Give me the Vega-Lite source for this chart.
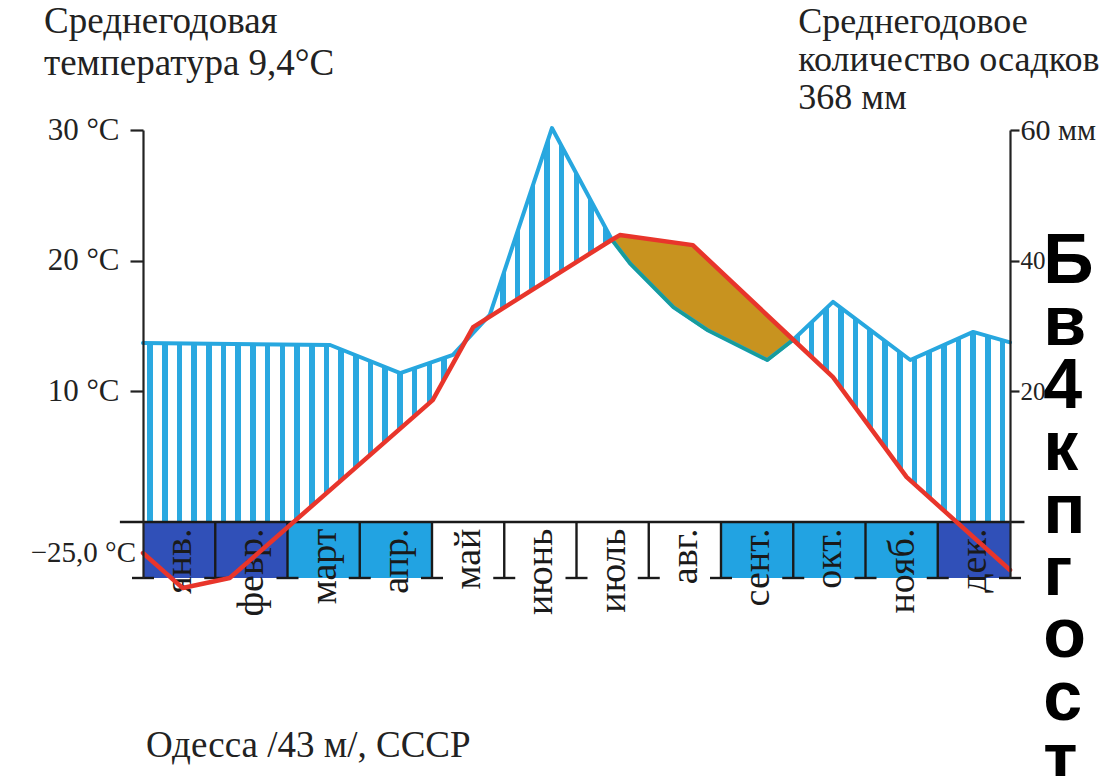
{
  "$schema": "https://vega.github.io/schema/vega-lite/v6.json",
  "width": 867,
  "height": 448,
  "autosize": "none",
  "padding": {"left": 143, "top": 130, "right": 102, "bottom": 198},
  "background": "white",
  "config": {"view": {"stroke": null}, "font": "Liberation Serif"},
  "datasets": {
    "temp": [
      {"m": 0, "t": -2.37},
      {"m": 0.55, "t": -5.05},
      {"m": 1.2, "t": -4.28},
      {"m": 4.01, "t": 9.33},
      {"m": 4.57, "t": 14.92},
      {"m": 6.49, "t": 21.6},
      {"m": 6.6, "t": 21.96},
      {"m": 7.61, "t": 21.19},
      {"m": 9.0, "t": 13.95},
      {"m": 9.55, "t": 11.09},
      {"m": 10.57, "t": 3.44},
      {"m": 12, "t": -3.67}
    ],
    "prec": [
      {"m": 0, "p": 27.4},
      {"m": 2.59, "p": 27.1},
      {"m": 3.56, "p": 22.8},
      {"m": 4.29, "p": 25.6},
      {"m": 4.8, "p": 31.7},
      {"m": 5.66, "p": 60.3},
      {"m": 6.49, "p": 43.2},
      {"m": 6.74, "p": 39.6},
      {"m": 7.34, "p": 32.9},
      {"m": 7.81, "p": 29.4},
      {"m": 8.64, "p": 24.8},
      {"m": 9.0, "p": 27.9},
      {"m": 9.55, "p": 33.7},
      {"m": 10.62, "p": 24.8},
      {"m": 11.49, "p": 29.1},
      {"m": 12, "p": 27.5}
    ],
    "months": [
      {"name": "янв.", "start": 0, "end": 1, "frost": "dark"},
      {"name": "февр.", "start": 1, "end": 2, "frost": "dark"},
      {"name": "март", "start": 2, "end": 3, "frost": "light"},
      {"name": "апр.", "start": 3, "end": 4, "frost": "light"},
      {"name": "май", "start": 4, "end": 5, "frost": "none"},
      {"name": "июнь", "start": 5, "end": 6, "frost": "none"},
      {"name": "июль", "start": 6, "end": 7, "frost": "none"},
      {"name": "авг.", "start": 7, "end": 8, "frost": "none"},
      {"name": "сент.", "start": 8, "end": 9, "frost": "light"},
      {"name": "окт.", "start": 9, "end": 10, "frost": "light"},
      {"name": "нояб.", "start": 10, "end": 11, "frost": "light"},
      {"name": "дек.", "start": 11, "end": 12, "frost": "dark"}
    ]
  },
  "resolve": {"scale": {"y": "independent"}, "axis": {"y": "independent"}},
  "layer": [
    {
      "data": {"name": "prec"},
      "mark": {
        "type": "area", "orient": "vertical",
        "fill": {
          "gradient": "linear", "x1": 0, "y1": 0, "x2": 1, "y2": 0,
          "stops": [
            {"offset": 0, "color": "#ffffff"},
            {"offset": 0.00484, "color": "#ffffff"}, {"offset": 0.00484, "color": "#2aa8e0"}, {"offset": 0.0113, "color": "#2aa8e0"}, {"offset": 0.0113, "color": "#ffffff"},
            {"offset": 0.0218, "color": "#ffffff"}, {"offset": 0.0218, "color": "#2aa8e0"}, {"offset": 0.02826, "color": "#2aa8e0"}, {"offset": 0.02826, "color": "#ffffff"},
            {"offset": 0.03875, "color": "#ffffff"}, {"offset": 0.03875, "color": "#2aa8e0"}, {"offset": 0.04521, "color": "#2aa8e0"}, {"offset": 0.04521, "color": "#ffffff"},
            {"offset": 0.05571, "color": "#ffffff"}, {"offset": 0.05571, "color": "#2aa8e0"}, {"offset": 0.06217, "color": "#2aa8e0"}, {"offset": 0.06217, "color": "#ffffff"},
            {"offset": 0.07266, "color": "#ffffff"}, {"offset": 0.07266, "color": "#2aa8e0"}, {"offset": 0.07912, "color": "#2aa8e0"}, {"offset": 0.07912, "color": "#ffffff"},
            {"offset": 0.08962, "color": "#ffffff"}, {"offset": 0.08962, "color": "#2aa8e0"}, {"offset": 0.09608, "color": "#2aa8e0"}, {"offset": 0.09608, "color": "#ffffff"},
            {"offset": 0.10657, "color": "#ffffff"}, {"offset": 0.10657, "color": "#2aa8e0"}, {"offset": 0.11303, "color": "#2aa8e0"}, {"offset": 0.11303, "color": "#ffffff"},
            {"offset": 0.12353, "color": "#ffffff"}, {"offset": 0.12353, "color": "#2aa8e0"}, {"offset": 0.12999, "color": "#2aa8e0"}, {"offset": 0.12999, "color": "#ffffff"},
            {"offset": 0.14048, "color": "#ffffff"}, {"offset": 0.14048, "color": "#2aa8e0"}, {"offset": 0.14694, "color": "#2aa8e0"}, {"offset": 0.14694, "color": "#ffffff"},
            {"offset": 0.15744, "color": "#ffffff"}, {"offset": 0.15744, "color": "#2aa8e0"}, {"offset": 0.1639, "color": "#2aa8e0"}, {"offset": 0.1639, "color": "#ffffff"},
            {"offset": 0.17439, "color": "#ffffff"}, {"offset": 0.17439, "color": "#2aa8e0"}, {"offset": 0.18085, "color": "#2aa8e0"}, {"offset": 0.18085, "color": "#ffffff"},
            {"offset": 0.19135, "color": "#ffffff"}, {"offset": 0.19135, "color": "#2aa8e0"}, {"offset": 0.19781, "color": "#2aa8e0"}, {"offset": 0.19781, "color": "#ffffff"},
            {"offset": 0.2083, "color": "#ffffff"}, {"offset": 0.2083, "color": "#2aa8e0"}, {"offset": 0.21476, "color": "#2aa8e0"}, {"offset": 0.21476, "color": "#ffffff"},
            {"offset": 0.22526, "color": "#ffffff"}, {"offset": 0.22526, "color": "#2aa8e0"}, {"offset": 0.23172, "color": "#2aa8e0"}, {"offset": 0.23172, "color": "#ffffff"},
            {"offset": 0.24221, "color": "#ffffff"}, {"offset": 0.24221, "color": "#2aa8e0"}, {"offset": 0.24867, "color": "#2aa8e0"}, {"offset": 0.24867, "color": "#ffffff"},
            {"offset": 0.25917, "color": "#ffffff"}, {"offset": 0.25917, "color": "#2aa8e0"}, {"offset": 0.26563, "color": "#2aa8e0"}, {"offset": 0.26563, "color": "#ffffff"},
            {"offset": 0.27612, "color": "#ffffff"}, {"offset": 0.27612, "color": "#2aa8e0"}, {"offset": 0.28258, "color": "#2aa8e0"}, {"offset": 0.28258, "color": "#ffffff"},
            {"offset": 0.29308, "color": "#ffffff"}, {"offset": 0.29308, "color": "#2aa8e0"}, {"offset": 0.29954, "color": "#2aa8e0"}, {"offset": 0.29954, "color": "#ffffff"},
            {"offset": 0.31003, "color": "#ffffff"}, {"offset": 0.31003, "color": "#2aa8e0"}, {"offset": 0.31649, "color": "#2aa8e0"}, {"offset": 0.31649, "color": "#ffffff"},
            {"offset": 0.32699, "color": "#ffffff"}, {"offset": 0.32699, "color": "#2aa8e0"}, {"offset": 0.33345, "color": "#2aa8e0"}, {"offset": 0.33345, "color": "#ffffff"},
            {"offset": 0.34394, "color": "#ffffff"}, {"offset": 0.34394, "color": "#2aa8e0"}, {"offset": 0.3504, "color": "#2aa8e0"}, {"offset": 0.3504, "color": "#ffffff"},
            {"offset": 0.3609, "color": "#ffffff"}, {"offset": 0.3609, "color": "#2aa8e0"}, {"offset": 0.36736, "color": "#2aa8e0"}, {"offset": 0.36736, "color": "#ffffff"},
            {"offset": 0.37785, "color": "#ffffff"}, {"offset": 0.37785, "color": "#2aa8e0"}, {"offset": 0.38431, "color": "#2aa8e0"}, {"offset": 0.38431, "color": "#ffffff"},
            {"offset": 0.39481, "color": "#ffffff"}, {"offset": 0.39481, "color": "#2aa8e0"}, {"offset": 0.40127, "color": "#2aa8e0"}, {"offset": 0.40127, "color": "#ffffff"},
            {"offset": 0.41176, "color": "#ffffff"}, {"offset": 0.41176, "color": "#2aa8e0"}, {"offset": 0.41822, "color": "#2aa8e0"}, {"offset": 0.41822, "color": "#ffffff"},
            {"offset": 0.42872, "color": "#ffffff"}, {"offset": 0.42872, "color": "#2aa8e0"}, {"offset": 0.43518, "color": "#2aa8e0"}, {"offset": 0.43518, "color": "#ffffff"},
            {"offset": 0.44567, "color": "#ffffff"}, {"offset": 0.44567, "color": "#2aa8e0"}, {"offset": 0.45213, "color": "#2aa8e0"}, {"offset": 0.45213, "color": "#ffffff"},
            {"offset": 0.46263, "color": "#ffffff"}, {"offset": 0.46263, "color": "#2aa8e0"}, {"offset": 0.46909, "color": "#2aa8e0"}, {"offset": 0.46909, "color": "#ffffff"},
            {"offset": 0.47958, "color": "#ffffff"}, {"offset": 0.47958, "color": "#2aa8e0"}, {"offset": 0.48604, "color": "#2aa8e0"}, {"offset": 0.48604, "color": "#ffffff"},
            {"offset": 0.49654, "color": "#ffffff"}, {"offset": 0.49654, "color": "#2aa8e0"}, {"offset": 0.503, "color": "#2aa8e0"}, {"offset": 0.503, "color": "#ffffff"},
            {"offset": 0.51349, "color": "#ffffff"}, {"offset": 0.51349, "color": "#2aa8e0"}, {"offset": 0.51995, "color": "#2aa8e0"}, {"offset": 0.51995, "color": "#ffffff"},
            {"offset": 0.53045, "color": "#ffffff"}, {"offset": 0.53045, "color": "#2aa8e0"}, {"offset": 0.53691, "color": "#2aa8e0"}, {"offset": 0.53691, "color": "#ffffff"},
            {"offset": 0.5474, "color": "#ffffff"}, {"offset": 0.5474, "color": "#2aa8e0"}, {"offset": 0.55386, "color": "#2aa8e0"}, {"offset": 0.55386, "color": "#ffffff"},
            {"offset": 0.56436, "color": "#ffffff"}, {"offset": 0.56436, "color": "#2aa8e0"}, {"offset": 0.57082, "color": "#2aa8e0"}, {"offset": 0.57082, "color": "#ffffff"},
            {"offset": 0.58131, "color": "#ffffff"}, {"offset": 0.58131, "color": "#2aa8e0"}, {"offset": 0.58777, "color": "#2aa8e0"}, {"offset": 0.58777, "color": "#ffffff"},
            {"offset": 0.59827, "color": "#ffffff"}, {"offset": 0.59827, "color": "#2aa8e0"}, {"offset": 0.60473, "color": "#2aa8e0"}, {"offset": 0.60473, "color": "#ffffff"},
            {"offset": 0.61522, "color": "#ffffff"}, {"offset": 0.61522, "color": "#2aa8e0"}, {"offset": 0.62168, "color": "#2aa8e0"}, {"offset": 0.62168, "color": "#ffffff"},
            {"offset": 0.63218, "color": "#ffffff"}, {"offset": 0.63218, "color": "#2aa8e0"}, {"offset": 0.63864, "color": "#2aa8e0"}, {"offset": 0.63864, "color": "#ffffff"},
            {"offset": 0.64913, "color": "#ffffff"}, {"offset": 0.64913, "color": "#2aa8e0"}, {"offset": 0.65559, "color": "#2aa8e0"}, {"offset": 0.65559, "color": "#ffffff"},
            {"offset": 0.66609, "color": "#ffffff"}, {"offset": 0.66609, "color": "#2aa8e0"}, {"offset": 0.67255, "color": "#2aa8e0"}, {"offset": 0.67255, "color": "#ffffff"},
            {"offset": 0.68304, "color": "#ffffff"}, {"offset": 0.68304, "color": "#2aa8e0"}, {"offset": 0.6895, "color": "#2aa8e0"}, {"offset": 0.6895, "color": "#ffffff"},
            {"offset": 0.7, "color": "#ffffff"}, {"offset": 0.7, "color": "#2aa8e0"}, {"offset": 0.70646, "color": "#2aa8e0"}, {"offset": 0.70646, "color": "#ffffff"},
            {"offset": 0.71695, "color": "#ffffff"}, {"offset": 0.71695, "color": "#2aa8e0"}, {"offset": 0.72341, "color": "#2aa8e0"}, {"offset": 0.72341, "color": "#ffffff"},
            {"offset": 0.73391, "color": "#ffffff"}, {"offset": 0.73391, "color": "#2aa8e0"}, {"offset": 0.74037, "color": "#2aa8e0"}, {"offset": 0.74037, "color": "#ffffff"},
            {"offset": 0.75086, "color": "#ffffff"}, {"offset": 0.75086, "color": "#2aa8e0"}, {"offset": 0.75732, "color": "#2aa8e0"}, {"offset": 0.75732, "color": "#ffffff"},
            {"offset": 0.76782, "color": "#ffffff"}, {"offset": 0.76782, "color": "#2aa8e0"}, {"offset": 0.77428, "color": "#2aa8e0"}, {"offset": 0.77428, "color": "#ffffff"},
            {"offset": 0.78477, "color": "#ffffff"}, {"offset": 0.78477, "color": "#2aa8e0"}, {"offset": 0.79123, "color": "#2aa8e0"}, {"offset": 0.79123, "color": "#ffffff"},
            {"offset": 0.80173, "color": "#ffffff"}, {"offset": 0.80173, "color": "#2aa8e0"}, {"offset": 0.80819, "color": "#2aa8e0"}, {"offset": 0.80819, "color": "#ffffff"},
            {"offset": 0.81868, "color": "#ffffff"}, {"offset": 0.81868, "color": "#2aa8e0"}, {"offset": 0.82514, "color": "#2aa8e0"}, {"offset": 0.82514, "color": "#ffffff"},
            {"offset": 0.83564, "color": "#ffffff"}, {"offset": 0.83564, "color": "#2aa8e0"}, {"offset": 0.8421, "color": "#2aa8e0"}, {"offset": 0.8421, "color": "#ffffff"},
            {"offset": 0.85259, "color": "#ffffff"}, {"offset": 0.85259, "color": "#2aa8e0"}, {"offset": 0.85905, "color": "#2aa8e0"}, {"offset": 0.85905, "color": "#ffffff"},
            {"offset": 0.86955, "color": "#ffffff"}, {"offset": 0.86955, "color": "#2aa8e0"}, {"offset": 0.87601, "color": "#2aa8e0"}, {"offset": 0.87601, "color": "#ffffff"},
            {"offset": 0.8865, "color": "#ffffff"}, {"offset": 0.8865, "color": "#2aa8e0"}, {"offset": 0.89296, "color": "#2aa8e0"}, {"offset": 0.89296, "color": "#ffffff"},
            {"offset": 0.90346, "color": "#ffffff"}, {"offset": 0.90346, "color": "#2aa8e0"}, {"offset": 0.90992, "color": "#2aa8e0"}, {"offset": 0.90992, "color": "#ffffff"},
            {"offset": 0.92041, "color": "#ffffff"}, {"offset": 0.92041, "color": "#2aa8e0"}, {"offset": 0.92687, "color": "#2aa8e0"}, {"offset": 0.92687, "color": "#ffffff"},
            {"offset": 0.93737, "color": "#ffffff"}, {"offset": 0.93737, "color": "#2aa8e0"}, {"offset": 0.94383, "color": "#2aa8e0"}, {"offset": 0.94383, "color": "#ffffff"},
            {"offset": 0.95432, "color": "#ffffff"}, {"offset": 0.95432, "color": "#2aa8e0"}, {"offset": 0.96078, "color": "#2aa8e0"}, {"offset": 0.96078, "color": "#ffffff"},
            {"offset": 0.97128, "color": "#ffffff"}, {"offset": 0.97128, "color": "#2aa8e0"}, {"offset": 0.97774, "color": "#2aa8e0"}, {"offset": 0.97774, "color": "#ffffff"},
            {"offset": 0.98823, "color": "#ffffff"}, {"offset": 0.98823, "color": "#2aa8e0"}, {"offset": 0.99469, "color": "#2aa8e0"}, {"offset": 0.99469, "color": "#ffffff"},
            {"offset": 1, "color": "#ffffff"}
          ]
        }
      },
      "encoding": {
        "x": {"field": "m", "type": "quantitative", "scale": {"domain": [0, 12], "nice": false, "zero": false}, "axis": null},
        "y": {"field": "p", "type": "quantitative", "scale": {"domain": [-8.56, 60], "nice": false, "zero": false}, "axis": null},
        "y2": {"datum": 0}
      }
    },
    {
      "data": {"name": "temp"},
      "mark": {"type": "area", "orient": "vertical", "fill": "#ffffff"},
      "encoding": {
        "x": {"field": "m", "type": "quantitative", "scale": {"domain": [0, 12], "nice": false, "zero": false}, "axis": null},
        "y": {"field": "t", "type": "quantitative", "scale": {"domain": [-4.28, 30], "nice": false, "zero": false},
          "axis": {"orient": "left", "values": [10, 20, 30], "labelExpr": "datum.value + ' °C'", "labelFont": "Liberation Serif", "labelFontSize": 31, "labelColor": "#222222", "tickSize": 13, "tickWidth": 2.2, "tickColor": "#222222", "domainColor": "#222222", "domainWidth": 2.2, "labelPadding": 11, "grid": false, "title": null, "zindex": 1, "labelOverlap": false, "labelBound": false}},
        "y2": {"datum": 0}
      }
    },
    {
      "data": {"name": "temp"},
      "transform": [{"filter": "datum.m >= 6.49 && datum.m <= 9"}],
      "mark": {"type": "area", "orient": "vertical", "fill": "#c8931f"},
      "encoding": {
        "x": {"field": "m", "type": "quantitative", "scale": {"domain": [0, 12], "nice": false, "zero": false}, "axis": null},
        "y": {"field": "t", "type": "quantitative", "scale": {"domain": [-4.28, 30], "nice": false, "zero": false}, "axis": null},
        "y2": {"datum": 0}
      }
    },
    {
      "data": {"name": "prec"},
      "transform": [{"filter": "datum.m >= 6.49 && datum.m <= 9"}],
      "mark": {"type": "area", "orient": "vertical", "fill": "#ffffff", "stroke": "#ffffff", "strokeWidth": 2.5},
      "encoding": {
        "x": {"field": "m", "type": "quantitative", "scale": {"domain": [0, 12], "nice": false, "zero": false}, "axis": null},
        "y": {"field": "p", "type": "quantitative", "scale": {"domain": [-8.56, 60], "nice": false, "zero": false}, "axis": null},
        "y2": {"datum": 0}
      }
    },
    {
      "data": {"name": "months"},
      "mark": {"type": "rect"},
      "encoding": {
        "x": {"field": "start", "type": "quantitative", "scale": {"domain": [0, 12], "nice": false, "zero": false}, "axis": null},
        "x2": {"field": "end"},
        "y": {"datum": 0, "type": "quantitative", "scale": {"domain": [-4.28, 30], "nice": false, "zero": false}, "axis": null},
        "y2": {"datum": -4.28},
        "color": {"field": "frost", "type": "nominal", "scale": {"domain": ["dark", "light", "none"], "range": ["#3050b8", "#22a3e2", "#ffffff"]}, "legend": null}
      }
    },
    {
      "data": {"name": "months"},
      "transform": [{"filter": "datum.start > 0"}],
      "mark": {"type": "rule", "stroke": "#1a1a1a", "strokeWidth": 2.4},
      "encoding": {
        "x": {"field": "start", "type": "quantitative", "scale": {"domain": [0, 12], "nice": false, "zero": false}, "axis": null},
        "y": {"datum": 0, "type": "quantitative", "scale": {"domain": [-4.28, 30], "nice": false, "zero": false}, "axis": null},
        "y2": {"datum": -4.28}
      }
    },
    {
      "data": {"name": "months"},
      "mark": {"type": "tick", "orient": "horizontal", "size": 22, "thickness": 2.4, "color": "#1a1a1a", "opacity": 1},
      "encoding": {
        "x": {"field": "end", "type": "quantitative", "scale": {"domain": [0, 12], "nice": false, "zero": false}, "axis": null},
        "y": {"datum": -4.28, "type": "quantitative", "scale": {"domain": [-4.28, 30], "nice": false, "zero": false}, "axis": null}
      }
    },
    {
      "data": {"name": "months"},
      "transform": [{"filter": "datum.start == 0"}],
      "mark": {"type": "tick", "orient": "horizontal", "size": 22, "thickness": 2.4, "color": "#1a1a1a", "opacity": 1},
      "encoding": {
        "x": {"field": "start", "type": "quantitative", "scale": {"domain": [0, 12], "nice": false, "zero": false}, "axis": null},
        "y": {"datum": -4.28, "type": "quantitative", "scale": {"domain": [-4.28, 30], "nice": false, "zero": false}, "axis": null}
      }
    },
    {
      "data": {"name": "prec"},
      "mark": {"type": "line", "color": "#27a7df", "strokeWidth": 4, "strokeJoin": "round", "strokeCap": "round"},
      "encoding": {
        "x": {"field": "m", "type": "quantitative", "scale": {"domain": [0, 12], "nice": false, "zero": false}, "axis": null},
        "y": {"field": "p", "type": "quantitative", "scale": {"domain": [-8.56, 60], "nice": false, "zero": false},
          "axis": {"orient": "right", "values": [20, 40, 60], "labelExpr": "datum.value == 60 ? '60 мм' : datum.label", "labelFont": "Liberation Serif", "labelFontSize": {"condition": {"test": "datum.value == 60", "value": 30}, "value": 25}, "labelColor": "#222222", "tickSize": 9, "tickWidth": 2.2, "tickColor": "#222222", "domainColor": "#222222", "domainWidth": 2.2, "labelPadding": 1, "grid": false, "title": null, "zindex": 1, "labelOverlap": false, "labelBound": false}}
      }
    },
    {
      "data": {"name": "prec"},
      "transform": [{"filter": "datum.m >= 6.49 && datum.m <= 9"}],
      "mark": {"type": "line", "color": "#189c9a", "strokeWidth": 3.5, "strokeJoin": "round", "strokeCap": "round"},
      "encoding": {
        "x": {"field": "m", "type": "quantitative", "scale": {"domain": [0, 12], "nice": false, "zero": false}, "axis": null},
        "y": {"field": "p", "type": "quantitative", "scale": {"domain": [-8.56, 60], "nice": false, "zero": false}, "axis": null}
      }
    },
    {
      "data": {"name": "months"},
      "mark": {"type": "text", "angle": 270, "align": "right", "baseline": "middle", "font": "Liberation Serif", "fontSize": 38, "color": "#1a1a1a", "xOffset": 37},
      "encoding": {
        "x": {"field": "start", "type": "quantitative", "scale": {"domain": [0, 12], "nice": false, "zero": false}, "axis": null},
        "y": {"datum": -0.5, "type": "quantitative", "scale": {"domain": [-4.28, 30], "nice": false, "zero": false}, "axis": null},
        "text": {"field": "name"}
      }
    },
    {
      "data": {"values": [{}]},
      "mark": {"type": "rule", "stroke": "#1a1a1a", "strokeWidth": 2.5},
      "encoding": {
        "x": {"datum": -0.32, "type": "quantitative", "scale": {"domain": [0, 12], "nice": false, "zero": false}, "axis": null},
        "x2": {"datum": 12.2},
        "y": {"datum": 0, "type": "quantitative", "scale": {"domain": [-4.28, 30], "nice": false, "zero": false}, "axis": null}
      }
    },
    {
      "data": {"name": "temp"},
      "mark": {"type": "line", "color": "#e8352b", "strokeWidth": 4.5, "strokeJoin": "round", "strokeCap": "round"},
      "encoding": {
        "x": {"field": "m", "type": "quantitative", "scale": {"domain": [0, 12], "nice": false, "zero": false}, "axis": null},
        "y": {"field": "t", "type": "quantitative", "scale": {"domain": [-4.28, 30], "nice": false, "zero": false}, "axis": null}
      }
    },
    {
      "data": {"values": [{}]},
      "mark": {"type": "text", "text": "−25,0 °C", "align": "right", "baseline": "middle", "font": "Liberation Serif", "fontSize": 29, "color": "#222222", "dx": -7},
      "encoding": {
        "x": {"datum": 0, "type": "quantitative", "scale": {"domain": [0, 12], "nice": false, "zero": false}, "axis": null},
        "y": {"datum": -2.37, "type": "quantitative", "scale": {"domain": [-4.28, 30], "nice": false, "zero": false}, "axis": null}
      }
    },
    {
      "data": {"values": [{}]},
      "mark": {"type": "text", "text": ["Среднегодовая", "температура 9,4°C"], "align": "left", "baseline": "alphabetic", "font": "Liberation Serif", "fontSize": 37, "lineHeight": 42, "color": "#222222"},
      "encoding": {
        "x": {"datum": -1.37, "type": "quantitative", "scale": {"domain": [0, 12], "nice": false, "zero": false}, "axis": null},
        "y": {"datum": 37.41, "type": "quantitative", "scale": {"domain": [-4.28, 30], "nice": false, "zero": false}, "axis": null}
      }
    },
    {
      "data": {"values": [{}]},
      "mark": {"type": "text", "text": ["Среднегодовое", "количество осадков", "368 мм"], "align": "left", "baseline": "alphabetic", "font": "Liberation Serif", "fontSize": 36, "lineHeight": 38, "color": "#222222"},
      "encoding": {
        "x": {"datum": 9.07, "type": "quantitative", "scale": {"domain": [0, 12], "nice": false, "zero": false}, "axis": null},
        "y": {"datum": 37.41, "type": "quantitative", "scale": {"domain": [-4.28, 30], "nice": false, "zero": false}, "axis": null}
      }
    },
    {
      "data": {"values": [{}]},
      "mark": {"type": "text", "text": "Одесса /43 м/, СССР", "align": "left", "baseline": "alphabetic", "font": "Liberation Serif", "fontSize": 37, "color": "#222222"},
      "encoding": {
        "x": {"datum": 0.04, "type": "quantitative", "scale": {"domain": [0, 12], "nice": false, "zero": false}, "axis": null},
        "y": {"datum": -17.98, "type": "quantitative", "scale": {"domain": [-4.28, 30], "nice": false, "zero": false}, "axis": null}
      }
    },
    {
      "data": {"values": [{}]},
      "mark": {"type": "text", "text": ["Б", "в", "4", "к", "п", "г", "о", "с", "т"], "align": "left", "baseline": "alphabetic", "font": "Liberation Sans", "fontWeight": "bold", "fontSize": 70, "lineHeight": 62.4, "color": "#000000"},
      "encoding": {
        "x": {"datum": 12.46, "type": "quantitative", "scale": {"domain": [0, 12], "nice": false, "zero": false}, "axis": null},
        "y": {"datum": 18.29, "type": "quantitative", "scale": {"domain": [-4.28, 30], "nice": false, "zero": false}, "axis": null}
      }
    }
  ]
}
